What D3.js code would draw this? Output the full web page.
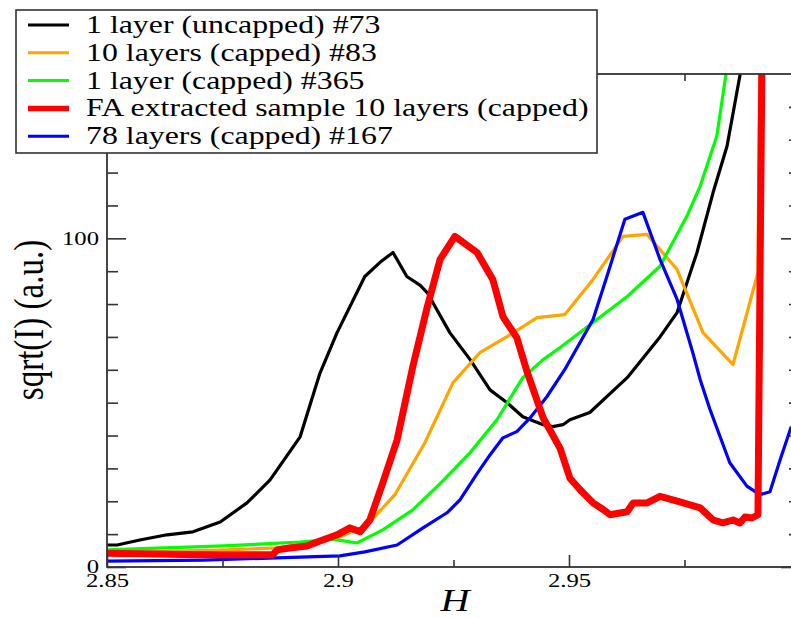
<!DOCTYPE html>
<html>
<head>
<meta charset="utf-8">
<script src="https://cdn.jsdelivr.net/npm/d3@7"></script>
<style>
  html,body{margin:0;padding:0;background:#fff;}
  svg{display:block;}
  text{font-family:"Liberation Serif","Times New Roman",serif;fill:#000;}
</style>
</head>
<body>
<svg id="chart" width="791" height="618"></svg>
<script>
(function(){
// series: H positions and sqrt(I) values
const blackH=[2.8500,2.8522,2.8571,2.8630,2.8686,2.8745,2.8803,2.8853,2.8918,2.8961,2.8998,2.9058,2.9091,2.9119,2.9149,2.9178,2.9193,2.9242,2.9286,2.9329,2.9366,2.9400,2.9444,2.9465,2.9487,2.9502,2.9545,2.9626,2.9697,2.9734,2.9777,2.9812,2.9842,2.9855,2.9877];
const blackV=[6.7,6.7,8.2,9.8,10.7,13.7,19.5,26.5,39.6,59,71.3,88.4,92.7,95.7,88.4,85.7,83.5,71.3,63.1,53.9,50,45.7,43.3,42.7,43.3,44.8,47,57.6,70,77.4,95.7,114,128,138,155];

const orangeH=[2.8500,2.8760,2.8868,2.8939,2.9004,2.9063,2.9123,2.9188,2.9249,2.9307,2.9366,2.9431,2.9491,2.9552,2.9617,2.9669,2.9697,2.9734,2.9790,2.9855,2.9909,2.9913];
const orangeV=[4.3,5.2,5.8,7.3,9.1,12.8,22,37.8,56.1,65.2,70.1,75.9,76.8,87.5,100.6,101.2,96.6,90.5,71.3,61.6,89.6,160];

const greenH=[2.8500,2.8751,2.8918,2.8989,2.9041,2.9097,2.9162,2.9227,2.9286,2.9344,2.9400,2.9444,2.9481,2.9552,2.9626,2.9697,2.9755,2.9784,2.9820,2.9845];
const greenV=[5.2,6.4,7.6,8.5,7.3,11.3,17.4,26.2,34.8,44.8,57.6,63.1,66.8,74.4,82.3,91.5,106.7,115.9,131.1,155];

const redH=[2.8500,2.8667,2.8738,2.8859,2.8868,2.8896,2.8933,2.8955,2.8998,2.9026,2.9048,2.9069,2.9097,2.9128,2.9162,2.9193,2.9221,2.9253,2.9301,2.9335,2.9357,2.9387,2.9409,2.9444,2.9481,2.9502,2.9524,2.9552,2.9574,2.9589,2.9626,2.9639,2.9669,2.9697,2.9740,2.9784,2.9812,2.9833,2.9855,2.9870,2.9881,2.9896,2.9909,2.9918];
const redV=[4.2,3.8,3.7,3.7,5.2,5.8,6.4,7.6,9.8,11.9,10.7,14.3,25.6,38.7,61,79,93.6,100.6,95.7,87.5,76.2,69.8,59.5,45.4,36,27,23.5,19.5,17.5,15.9,16.8,19.5,19.5,21.5,19.8,18,14.3,13.4,14.3,13.4,15.2,14.9,15.9,160];

const blueH=[2.8500,2.8708,2.8918,2.9004,2.9058,2.9128,2.9184,2.9236,2.9264,2.9301,2.9329,2.9357,2.9387,2.9416,2.9452,2.9491,2.9552,2.9582,2.9621,2.9660,2.9697,2.9734,2.9768,2.9784,2.9805,2.9848,2.9885,2.9913,2.9935,2.9957,2.9981];
const blueV=[1.8,2.1,3.0,3.4,4.6,6.7,11.9,16.5,20.4,28.4,34.1,39.3,41.2,45.4,51.8,60.1,75.3,88.4,105.8,107.9,93.6,81.4,65.2,57,48,31.7,24.6,22,22.9,32.6,42.7];

const legendLabels=['1 layer (uncapped) #73','10 layers (capped) #83','1 layer (capped) #365','FA extracted sample 10 layers (capped)','78 layers (capped) #167'];

const xTicks=[2.85,2.9,2.95];
const xMinor=[2.875,2.925,2.975];
const yTicks=[0,100];
const yMinor=[10,20,30,40,50,60,70,80,90,110,120,130,140];

const SX=1.3; // the picture is stretched sideways, text too
const FONT_TICK=19,FONT_LEG=24.5,FONT_TITLE=33;

const series=[
  {H:blackH,V:blackV,color:'#000000',w:3.2,label:legendLabels[0]},
  {H:orangeH,V:orangeV,color:'#ffa500',w:3.2,label:legendLabels[1]},
  {H:greenH,V:greenV,color:'#00ff00',w:3.2,label:legendLabels[2]},
  {H:blueH,V:blueV,color:'#0000ff',w:3.2,label:legendLabels[4]},
  {H:redH,V:redV,color:'#ff0000',w:7,label:legendLabels[3]}
];
const legendOrder=[0,1,2,4,3];

const L=107,R=800,T=74,B=567;
const x=d3.scaleLinear().domain([2.85,3.0]).range([L,R]);
const y=d3.scaleLinear().domain([0,150]).range([B,T]);

const svg=d3.select('#chart');
svg.append('rect').attr('width',791).attr('height',618).attr('fill','#fff');

svg.append('defs').append('clipPath').attr('id','plotclip')
  .append('rect').attr('x',L).attr('y',T).attr('width',R-L).attr('height',B-T);

// curves
const line=d3.line().x(d=>x(d[0])).y(d=>y(d[1]));
const plotG=svg.append('g').attr('clip-path','url(#plotclip)');
series.forEach(s=>{
  plotG.append('path').datum(s.H.map((h,i)=>[h,s.V[i]]))
    .attr('d',line).attr('fill','none').attr('stroke',s.color)
    .attr('stroke-width',s.w).attr('stroke-linejoin','round').attr('stroke-linecap','butt');
});

// axes (ticks inward on all four sides)
const axisCol='#333';
function styleAxis(g){
  g.select('.domain').remove();
  g.selectAll('.tick line').attr('stroke',axisCol).attr('stroke-width',1.6);
}
const fmt=d=>String(+d.toFixed(2));

const gB=svg.append('g').attr('transform',`translate(0,${B})`)
  .call(d3.axisBottom(x).tickValues(xTicks).tickSizeInner(-12).tickSizeOuter(0).tickFormat(fmt));
styleAxis(gB);
gB.selectAll('.tick text').attr('y',0).attr('dy',0).attr('font-size',FONT_TICK)
  .attr('font-family','"Liberation Serif","Times New Roman",serif')
  .attr('transform',`translate(0,20) scale(${SX},1)`);
svg.append('g').attr('transform',`translate(0,${B})`)
  .call(d3.axisBottom(x).tickValues(xMinor).tickSizeInner(-7).tickSizeOuter(0).tickFormat(''))
  .call(styleAxis);

svg.append('g').attr('transform',`translate(0,${T})`)
  .call(d3.axisTop(x).tickValues(xTicks).tickSizeInner(-12).tickSizeOuter(0).tickFormat(''))
  .call(styleAxis);
svg.append('g').attr('transform',`translate(0,${T})`)
  .call(d3.axisTop(x).tickValues(xMinor).tickSizeInner(-7).tickSizeOuter(0).tickFormat(''))
  .call(styleAxis);

const gL=svg.append('g').attr('transform',`translate(${L},0)`)
  .call(d3.axisLeft(y).tickValues(yTicks).tickSizeInner(-19).tickSizeOuter(0).tickFormat(fmt));
styleAxis(gL);
gL.selectAll('.tick text').attr('x',0).attr('dy','0.35em').attr('font-size',FONT_TICK)
  .attr('font-family','"Liberation Serif","Times New Roman",serif')
  .attr('transform',d=>`translate(-8,${d===0?-1:0}) scale(${SX},1)`);
svg.append('g').attr('transform',`translate(${L},0)`)
  .call(d3.axisLeft(y).tickValues(yMinor).tickSizeInner(-11).tickSizeOuter(0).tickFormat(''))
  .call(styleAxis);

svg.append('g').attr('transform',`translate(${R},0)`)
  .call(d3.axisRight(y).tickValues(yTicks).tickSizeInner(-19).tickSizeOuter(0).tickFormat(''))
  .call(styleAxis);
svg.append('g').attr('transform',`translate(${R},0)`)
  .call(d3.axisRight(y).tickValues(yMinor).tickSizeInner(-11).tickSizeOuter(0).tickFormat(''))
  .call(styleAxis);

// frame
svg.append('rect').attr('x',L).attr('y',T).attr('width',R-L).attr('height',B-T)
  .attr('fill','none').attr('stroke',axisCol).attr('stroke-width',1.8);

// axis titles
svg.append('text').attr('text-anchor','middle').attr('font-size',FONT_TITLE)
  .attr('transform',`translate(43,320) scale(${SX},1) rotate(-90)`)
  .text('sqrt(I) (a.u.)');
svg.append('text').attr('text-anchor','middle').attr('font-size',31)
  .attr('font-style','italic')
  .attr('transform',`translate(455,611) scale(${SX},1)`)
  .text('H');

// legend
const lg=svg.append('g');
lg.append('rect').attr('x',16).attr('y',10).attr('width',581).attr('height',143)
  .attr('fill','#fff').attr('stroke',axisCol).attr('stroke-width',1.6);
legendOrder.forEach((si,i)=>{
  const s=series[si],cy=25+i*27.8;
  lg.append('line').attr('x1',28).attr('x2',69).attr('y1',cy).attr('y2',cy)
    .attr('stroke',s.color).attr('stroke-width',s.w===7?5.5:3);
  lg.append('text').attr('font-size',FONT_LEG)
    .attr('transform',`translate(86,${cy+8}) scale(${SX},1)`)
    .text(s.label);
});
})();
</script>
</body>
</html>
